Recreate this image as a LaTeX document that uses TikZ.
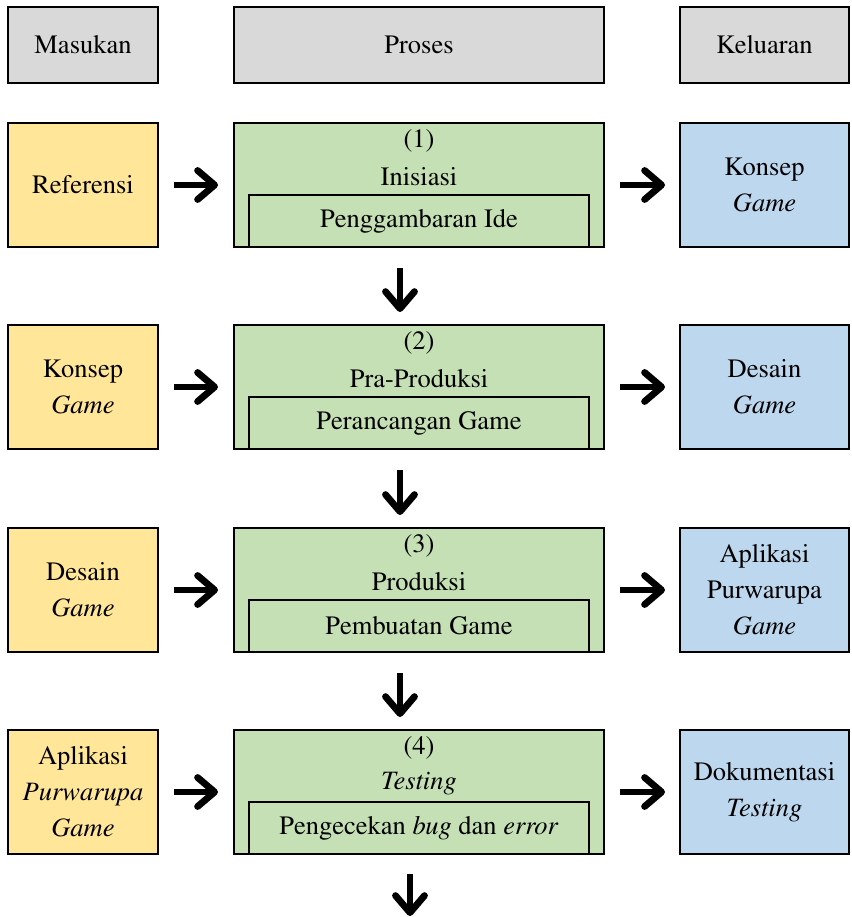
\documentclass[tikz,border=0pt]{standalone}
\usepackage[T1]{fontenc}
\usepackage{times}
\usetikzlibrary{arrows.meta}
\definecolor{hdr}{HTML}{D9D9D9}
\definecolor{inp}{HTML}{FFE699}
\definecolor{prc}{HTML}{C5E0B4}
\definecolor{outc}{HTML}{BDD7EE}
\begin{document}
\begin{tikzpicture}[x=1pt,y=-1pt,
  box/.style={draw=black, line width=2.8pt, inner sep=0pt, outer sep=0pt, align=center,
    font=\rmfamily\fontsize{26.5}{36}\selectfont},
  txt/.style={inner sep=0pt, outer sep=0pt, align=center, font=\rmfamily\fontsize{26.5}{36}\selectfont},
  hbox/.style={box, fill=hdr, minimum height=76pt},
  inbox/.style={box, fill=inp, minimum width=150pt, minimum height=124pt},
  pbox/.style={box, fill=prc, minimum width=370pt, minimum height=124pt},
  ibox/.style={box, fill=prc, minimum width=340pt, minimum height=52pt},
  obox/.style={box, fill=outc, minimum width=169pt, minimum height=124pt},
  arr/.style={line width=6.8pt, -{Straight Barb[length=17pt,width=29pt,round]}}
]
\useasboundingbox (0,0) rectangle (851,917);

% headers
\node[hbox, minimum width=150pt] (hin) at (83,45) {Masukan};
\node[hbox, minimum width=370pt] (hpr) at (419,45) {Proses};
\node[hbox, minimum width=169pt] (hout) at (764.5,45) {Keluaran};

% row 1 (top 123)
\node[inbox] (in1) at (83,185) {Referensi};
\node[pbox] (p1) at (419,185) {};
\node[txt] (n1) at (419,141) {(1)};
\node[txt] (t1) at (419,177) {Inisiasi};
\node[ibox, anchor=south] (s1) at (p1.south) {Penggambaran Ide};
\node[obox] (o1) at (764.5,185) {Konsep\\\textit{Game}};

% row 2 (top 325)
\node[inbox] (in2) at (83,387) {Konsep\\\textit{Game}};
\node[pbox] (p2) at (419,387) {};
\node[txt] (n2) at (419,343) {(2)};
\node[txt] (t2) at (419,379) {Pra-Produksi};
\node[ibox, anchor=south] (s2) at (p2.south) {Perancangan Game};
\node[obox] (o2) at (764.5,387) {Desain\\\textit{Game}};

% row 3 (top 528)
\node[inbox] (in3) at (83,590) {Desain\\\textit{Game}};
\node[pbox] (p3) at (419,590) {};
\node[txt] (n3) at (419,546) {(3)};
\node[txt] (t3) at (419,582) {Produksi};
\node[ibox, anchor=south] (s3) at (p3.south) {Pembuatan Game};
\node[obox] (o3) at (764.5,590) {Aplikasi\\Purwarupa\\\textit{Game}};

% row 4 (top 730)
\node[inbox] (in4) at (83,792) {Aplikasi\\\textit{Purwarupa}\\\textit{Game}};
\node[pbox] (p4) at (419,792) {};
\node[txt] (n4) at (419,748) {(4)};
\node[txt] (t4) at (419,784) {\textit{Testing}};
\node[ibox, anchor=south] (s4) at (p4.south) {Pengecekan \textit{bug} dan \textit{error}};
\node[obox] (o4) at (764.5,792) {Dokumentasi\\\textit{Testing}};

\coordinate (end) at (410,917);

% horizontal arrows
\foreach \i in {1,2,3,4}{
  \draw[arr, shorten <=16pt, shorten >=16pt] (in\i.east) -- (p\i.west);
  \draw[arr, shorten <=16pt, shorten >=15pt] (p\i.east) -- (o\i.west);
}
% vertical arrows
\draw[arr, shorten <=21pt, shorten >=13pt] ([xshift=-19pt]p1.south) -- ([xshift=-19pt]p2.north);
\draw[arr, shorten <=21pt, shorten >=13pt] ([xshift=-19pt]p2.south) -- ([xshift=-19pt]p3.north);
\draw[arr, shorten <=21pt, shorten >=13pt] ([xshift=-19pt]p3.south) -- ([xshift=-19pt]p4.north);
\draw[arr, shorten <=20pt, shorten >=1pt] ([xshift=-9pt]p4.south) -- (end);
\end{tikzpicture}
\end{document}
